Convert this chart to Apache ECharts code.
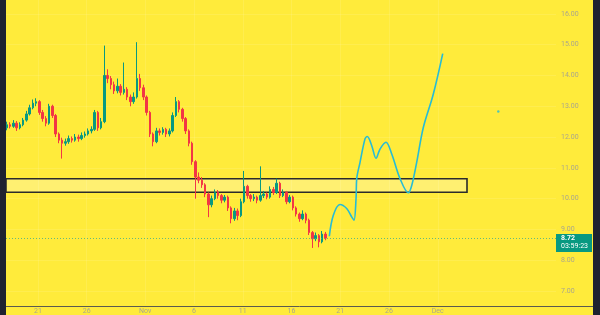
<!DOCTYPE html>
<html>
<head>
<meta charset="utf-8">
<script src="https://cdn.jsdelivr.net/npm/echarts@6/dist/echarts.min.js"></script>
<style>
html,body{margin:0;padding:0;background:#ffeb3b;}
#c{width:600px;height:315px;}
</style>
</head>
<body>
<div id="c"></div>
<script>
// ---- data ----
const tickDays = [21, 26, 32, 37, 42, 47, 52, 57, 62];
const tickLabels = ['21', '26', 'Nov', '6', '11', '16', '21', '26', 'Dec'];
const priceTicks = [7, 8, 9, 10, 11, 12, 13, 14, 15, 16];
const candleStart = 17.82;
const candleStep = 1 / 3;
const opens = [12.30,12.40,12.35,12.45,12.30,12.40,12.55,12.75,12.95,13.10,
  13.15,12.80,12.60,12.45,13.00,12.70,12.10,11.90,11.80,11.85,
  11.95,11.90,12.00,11.95,12.05,12.10,12.20,12.25,12.80,12.30,
  12.50,14.00,13.90,13.70,13.50,13.65,13.45,13.55,13.30,13.15,
  13.30,13.90,13.60,13.30,12.80,12.10,11.85,12.20,12.15,12.25,
  12.10,12.20,12.70,13.15,12.90,12.60,12.20,11.80,11.20,10.70,
  10.60,10.45,10.15,9.80,10.00,10.20,10.10,9.95,10.05,9.70,
  9.35,9.60,9.45,9.90,10.40,10.10,10.00,10.05,9.95,10.10,
  10.15,10.05,10.30,10.20,10.50,10.10,10.20,9.90,10.05,9.70,
  9.50,9.35,9.50,9.30,8.90,8.70,8.80,8.60,8.85];
const closes = [12.40,12.35,12.45,12.30,12.40,12.55,12.75,12.95,13.10,13.15,
  12.80,12.60,12.45,13.00,12.70,12.10,11.90,11.80,11.85,11.95,
  11.90,12.00,11.95,12.05,12.10,12.20,12.25,12.80,12.30,12.50,
  14.00,13.90,13.70,13.50,13.65,13.45,13.55,13.30,13.15,13.30,
  13.90,13.60,13.30,12.80,12.10,11.85,12.20,12.15,12.25,12.10,
  12.20,12.70,13.15,12.90,12.60,12.20,11.80,11.20,10.70,10.60,
  10.45,10.15,9.80,10.00,10.20,10.10,9.95,10.05,9.70,9.35,
  9.60,9.45,9.90,10.40,10.10,10.00,10.05,9.95,10.10,10.15,
  10.05,10.30,10.20,10.50,10.10,10.20,9.90,10.05,9.70,9.50,
  9.35,9.50,9.30,8.90,8.70,8.80,8.60,8.85,8.72];
const highs = [12.50,12.48,12.55,12.52,12.48,12.62,12.85,13.05,13.22,13.26,
  13.20,12.88,12.68,13.08,13.05,12.75,12.15,11.98,11.95,12.05,
  12.02,12.10,12.08,12.15,12.18,12.28,12.35,12.88,12.85,12.62,
  14.97,14.20,13.98,13.80,13.90,13.72,14.42,13.62,13.38,13.45,
  15.08,14.05,13.70,13.35,12.85,12.15,12.30,12.28,12.32,12.30,
  12.28,12.80,13.30,13.20,12.95,12.65,12.25,11.85,11.25,10.85,
  10.70,10.50,10.20,10.10,10.30,10.28,10.15,10.12,10.10,9.75,
  9.70,9.68,10.00,10.90,10.45,10.15,10.15,10.10,11.05,10.25,
  10.20,10.40,10.38,10.65,10.55,10.30,10.25,10.12,10.10,9.75,
  9.55,9.62,9.55,9.35,8.95,8.90,8.85,8.95,8.92];
const lows = [12.22,12.28,12.30,12.20,12.25,12.35,12.50,12.70,12.90,13.00,
  12.72,12.50,12.35,12.40,12.62,12.00,11.80,11.30,11.72,11.78,
  11.82,11.85,11.85,11.90,11.98,12.05,12.12,12.20,12.20,12.25,
  12.45,13.75,13.55,13.40,13.42,13.35,13.38,13.20,13.00,13.08,
  13.25,13.50,13.20,12.70,12.00,11.70,11.80,12.05,12.08,12.00,
  12.02,12.15,12.65,12.80,12.50,12.10,11.70,11.10,10.00,10.50,
  10.35,10.05,9.40,9.72,9.95,10.00,9.85,9.88,9.60,9.20,
  9.28,9.30,9.40,9.85,10.00,9.90,9.92,9.85,9.90,10.02,
  9.98,10.00,10.12,10.15,10.02,10.05,9.82,9.85,9.62,9.42,
  9.25,9.30,9.20,8.82,8.40,8.62,8.42,8.55,8.65];
const curveDays = [50.88,51.29,51.97,52.66,53.17,53.41,53.62,53.69,54.03,54.54,54.77,55.23,55.67,56.08,56.69,57.28,58.13,58.98,59.33,59.84,60.52,61.54,62.51];
const curvePrices = [8.78,9.46,9.81,9.68,9.41,9.30,10.00,10.65,11.18,11.94,12.02,11.72,11.31,11.61,11.83,11.45,10.65,10.19,10.43,11.18,12.31,13.39,14.71];
const zoneLow = 10.21, zoneHigh = 10.645, zoneEndDay = 65.0;
const dotDay = 68.21, dotPrice = 12.83;
const lastPrice = 8.72, countdown = '03:59:23';

// ---- chart ----
const X_MIN = 17.718, X_MAX = 74.128, Y_MIN = 6.58, Y_MAX = 16.45;
const UP = '#089981', DOWN = '#f23645';
const LABEL = '#aaa68c';

const candles = opens.map((o, i) => [candleStart + i * candleStep, o, closes[i], lows[i], highs[i]]);
const curve = curveDays.map((d, i) => [d, curvePrices[i]]);

const chart = echarts.init(document.getElementById('c'), null, {renderer: 'canvas'});
const option = {
  animation: false,
  backgroundColor: '#ffeb3b',
  grid: {left: 6, right: 44, top: 0, bottom: 9, containLabel: false},
  xAxis: {
    type: 'value', min: X_MIN, max: X_MAX,
    axisLine: {show: false},
    axisTick: {show: false, customValues: tickDays},
    splitLine: {show: true, lineStyle: {color: 'rgba(255,255,255,0.1)', width: 1}},
    axisLabel: {
      customValues: tickDays,
      color: LABEL, fontSize: 7, margin: 4, fontFamily: 'Roboto',
      formatter: v => { const k = tickDays.findIndex(t => Math.abs(t - v) < 1e-6); return k >= 0 ? tickLabels[k] : ''; }
    }
  },
  yAxis: {
    type: 'value', position: 'right', min: Y_MIN, max: Y_MAX,
    axisLine: {show: false},
    axisTick: {show: false, customValues: priceTicks},
    splitLine: {show: true, lineStyle: {color: 'rgba(255,255,255,0.1)', width: 1}},
    axisLabel: {
      customValues: priceTicks,
      color: LABEL, fontSize: 7, margin: 5, fontFamily: 'Roboto',
      formatter: v => v.toFixed(2)
    }
  },
  series: [
    {
      type: 'candlestick',
      data: candles,
      encode: {x: 0, y: [1, 2, 3, 4]},
      barWidth: 2,
      itemStyle: {color: UP, color0: DOWN, borderColor: UP, borderColor0: DOWN, borderWidth: 1},
      markLine: {
        silent: true, symbol: ['none', 'none'], label: {show: false},
        lineStyle: {color: '#3fae8e', type: [1, 2], width: 1, opacity: 0.8},
        data: [{yAxis: lastPrice}]
      },
      markArea: {
        silent: true,
        itemStyle: {color: 'rgba(255,255,255,0.28)', borderColor: '#2b2b2b', borderWidth: 1.6},
        data: [[{xAxis: X_MIN, yAxis: zoneHigh}, {xAxis: zoneEndDay, yAxis: zoneLow}]]
      }
    },
    {
      type: 'line',
      data: curve,
      smooth: 0.35,
      showSymbol: false,
      lineStyle: {color: '#26bcd6', width: 1.6}
    },
    {
      type: 'scatter',
      data: [[dotDay, dotPrice]],
      symbolSize: 2.5,
      itemStyle: {color: '#26bcd6'}
    }
  ]
};
chart.setOption(option);

const py = chart.convertToPixel({yAxisIndex: 0}, lastPrice);
chart.setOption({
  graphic: [
    {type: 'rect', left: 0, top: 0, shape: {width: 6, height: 315}, style: {fill: '#1f2230'}, z: 100},
    {type: 'rect', left: 593, top: 0, shape: {width: 7, height: 315}, style: {fill: '#1f2230'}, z: 100},
    {type: 'line', shape: {x1: 6, y1: 306.5, x2: 593, y2: 306.5}, style: {stroke: '#5a5a50', lineWidth: 1}, z: 100},
    {type: 'rect', shape: {x: 556, y: py - 4, width: 36, height: 18}, style: {fill: UP}, z: 101},
    {type: 'text', x: 561, y: py - 3, style: {text: lastPrice.toFixed(2), fill: '#fff', fontSize: 7, fontWeight: 'bold', fontFamily: 'Roboto'}, z: 102},
    {type: 'text', x: 561, y: py + 5, style: {text: countdown, fill: '#fff', fontSize: 7, fontFamily: 'Roboto'}, z: 102}
  ]
});
</script>
</body>
</html>
